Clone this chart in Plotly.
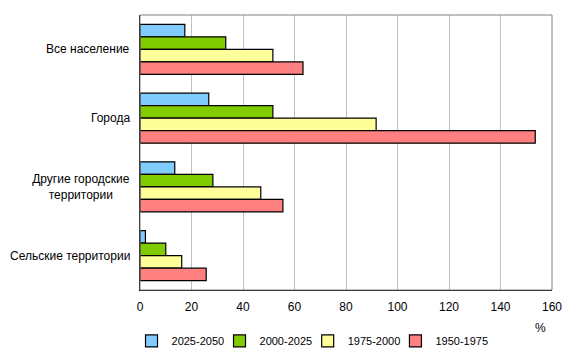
import plotly.graph_objects as go

categories = ["Все население", "Города", "Другие городские<br>территории", "Сельские территории"]
series_names = ["2025-2050", "2000-2025", "1975-2000", "1950-1975"]
v_2025_2050 = [17.4, 26.7, 13.5, 2.1]
v_2000_2025 = [33.3, 51.6, 28.3, 10.0]
v_1975_2000 = [51.6, 91.7, 46.9, 16.2]
v_1950_1975 = [63.3, 153.5, 55.5, 25.7]
colors = ["#80CCFF", "#80CC00", "#FFFF99", "#FF8080"]
tick_vals = [0, 20, 40, 60, 80, 100, 120, 140, 160]

legend_ids = ["legend", "legend2", "legend3", "legend4"]
legend_x = [-0.0206, 0.193, 0.407, 0.620]

fig = go.Figure()
for name, vals, col, lid in zip(series_names, [v_2025_2050, v_2000_2025, v_1975_2000, v_1950_1975], colors, legend_ids):
    fig.add_trace(go.Bar(
        y=categories, x=vals, name=name, orientation="h", legend=lid,
        marker=dict(color=col, line=dict(color="black", width=1.2)),
    ))

legend_common = dict(orientation="h", xanchor="left", y=-0.185, yanchor="middle",
                     font=dict(size=11), bgcolor="rgba(0,0,0,0)")
legends = {lid: dict(legend_common, x=lx) for lid, lx in zip(legend_ids, legend_x)}

label_annotations = []
for c in categories:
    ann = dict(text=c, xref="paper", yref="y", x=0, y=c, xanchor="right", yanchor="middle",
               xshift=-8, align="center", showarrow=False, font=dict(size=12))
    if "<br>" in c:
        ann["width"] = 98
    label_annotations.append(ann)

fig.update_layout(
    width=578, height=359,
    margin=dict(l=140, r=26, t=15, b=69, autoexpand=False),
    paper_bgcolor="white", plot_bgcolor="white",
    barmode="group", bargap=0.27, bargroupgap=0,
    font=dict(family="Liberation Sans, Arial, sans-serif", size=12, color="black"),
    showlegend=True,
    xaxis=dict(range=[0, 160], tickvals=tick_vals, showgrid=True, gridcolor="#C0C0C0", gridwidth=1,
               showline=True, linecolor="black", linewidth=1, mirror=False, zeroline=False,
               ticks="", ticklabelstandoff=6, tickfont=dict(size=12), automargin=False),
    yaxis=dict(autorange="reversed", showline=True, linecolor="black", linewidth=1,
               ticks="", showticklabels=False, automargin=False),
    shapes=[dict(type="rect", xref="paper", yref="paper", x0=0, x1=1, y0=0, y1=1,
                 line=dict(color="#808080", width=1), layer="above")],
    annotations=label_annotations + [
        dict(text="%", xref="paper", yref="paper", x=0.973, y=-0.138,
             xanchor="center", yanchor="middle", showarrow=False, font=dict(size=12))],
    **legends,
)

fig.write_html("out.html", config={"displayModeBar": False},
               post_script="document.body.style.margin='0';document.body.style.padding='0';")
